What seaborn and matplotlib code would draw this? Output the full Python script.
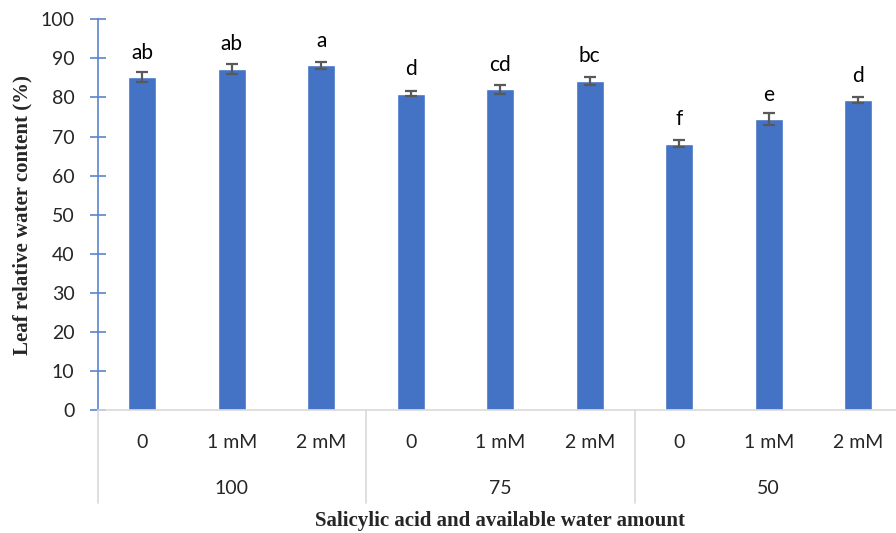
import pandas as pd
import seaborn as sns
import matplotlib.pyplot as plt

# Data
water = ["100", "75", "50"]
salicylic = ["0", "1 mM", "2 mM"]
lrwc = [85.2, 87.3, 88.2, 80.9, 82.1, 84.3, 68.2, 74.4, 79.3]
err = [1.3, 1.3, 0.85, 0.65, 1.1, 1.0, 0.8, 1.5, 0.8]
letters = ["ab", "ab", "a", "d", "cd", "bc", "f", "e", "d"]

df = pd.DataFrame({
    "group": [w for w in water for _ in salicylic],
    "treat": [s for _ in water for s in salicylic],
    "value": lrwc,
})
df["key"] = df["group"] + "|" + df["treat"]

sns.set_theme(style="white")
plt.rcParams["font.family"] = ["Lato", "DejaVu Sans"]

fig = plt.figure(figsize=(8.96, 5.33), dpi=100)
ax = fig.add_axes([97.5 / 896, 123 / 533, 805.5 / 896, 390.7 / 533])

sns.barplot(data=df, x="key", y="value", order=list(df["key"]), color="#4472C4",
            saturation=1, width=0.31, errorbar=None, ax=ax)
ax.errorbar(range(len(df)), df["value"], yerr=err, fmt="none", ecolor="#595959",
            elinewidth=1.6, capsize=4.5, capthick=1.6)

# significance letters
for i, (v, lab) in enumerate(zip(df["value"], letters)):
    ax.annotate(lab, (i, v), xytext=(0, 13.3), textcoords="offset points",
                ha="center", va="baseline", fontsize=15, color="black")

ax.set_xlim(-0.5, len(df) - 0.5)
ax.set_ylim(0, 100)
ax.set_yticks(range(0, 101, 10))
ax.tick_params(axis="y", direction="inout", length=11, width=1.2, color="#5B84CC",
               labelsize=14, pad=11, left=True)
ax.set_xticks(range(len(df)))
ax.set_xticklabels(df["treat"], fontsize=14)
ax.tick_params(axis="x", length=0, pad=17)

for s in ["top", "right"]:
    ax.spines[s].set_visible(False)
ax.spines["left"].set_color("#5B84CC")
ax.spines["left"].set_linewidth(1.2)
ax.spines["bottom"].set_color("#D9D9D9")
ax.spines["bottom"].set_linewidth(1.2)

# group separators and group labels
trans = ax.get_xaxis_transform()
for b in [-0.5, 2.5, 5.5, 8.5]:
    ax.plot([b, b], [0, -0.238], color="#D9D9D9", lw=1.2, transform=trans, clip_on=False)
for j, w in enumerate(water):
    ax.text(j * 3 + 1, -0.202, w, transform=trans, ha="center", va="center", fontsize=14)

ax.set_xlabel("")
ax.set_ylabel("")
ax.text(0.5, -0.284, "Salicylic acid and available water amount", transform=ax.transAxes,
        ha="center", va="center", fontsize=15, fontweight="bold",
        family=["Liberation Serif"])
fig.text(22 / 896, 1 - 215 / 533, "Leaf relative water content (%)", rotation=90,
         ha="center", va="center", fontsize=15, fontweight="bold",
         family=["Liberation Serif"])

fig.savefig("out.png", dpi=100)
